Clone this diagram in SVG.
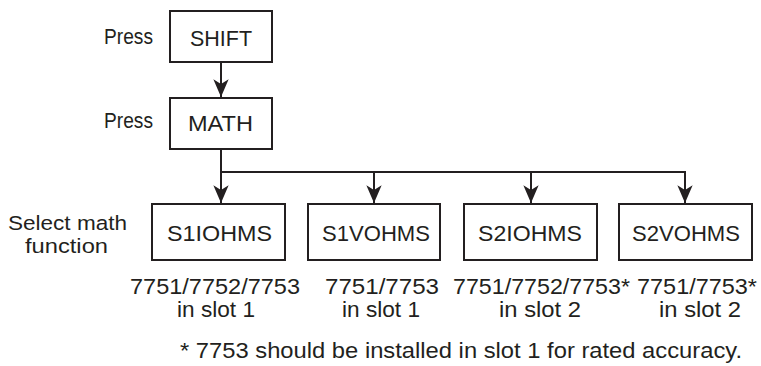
<svg xmlns="http://www.w3.org/2000/svg" width="761" height="366" viewBox="0 0 761 366">
<style>
text{font-family:"Liberation Sans",Arial,"DejaVu Sans",sans-serif;font-size:22.5px;fill:#231f20}
.sm{font-size:20.5px}
.box{fill:#fff;stroke:#231f20;stroke-width:2}
.c{fill:none;stroke:#231f20;stroke-width:2}
</style>
<defs>
<marker id="ah" markerUnits="userSpaceOnUse" markerWidth="20" markerHeight="20" refX="0" refY="0" viewBox="-16 -8 17 16" orient="auto">
<path d="M0,0 L-15,-6.5 L-11,0 L-15,6.5 Z" fill="#231f20"/>
</marker>
</defs>
<rect width="761" height="366" fill="#fff"/>
<g id="labels">
<text x="104" y="44" textLength="49" lengthAdjust="spacingAndGlyphs">Press</text>
<text x="104" y="128" textLength="49" lengthAdjust="spacingAndGlyphs">Press</text>
<text class="sm" x="8" y="230" textLength="119" lengthAdjust="spacingAndGlyphs">Select math</text>
<text class="sm" x="25" y="253" textLength="83" lengthAdjust="spacingAndGlyphs">function</text>
</g>
<g id="connectors">
<line class="c" x1="221" y1="62" x2="221" y2="97" marker-end="url(#ah)"/>
<polyline class="c" points="221,149 221,172 685,172"/>
<line class="c" x1="221" y1="172" x2="221" y2="203" marker-end="url(#ah)"/>
<line class="c" x1="374" y1="172" x2="374" y2="203" marker-end="url(#ah)"/>
<line class="c" x1="531" y1="172" x2="531" y2="203" marker-end="url(#ah)"/>
<line class="c" x1="685" y1="171" x2="685" y2="203" marker-end="url(#ah)"/>
</g>
<g id="shift">
<rect class="box" x="170" y="11" width="102" height="51"/>
<text x="190" y="46" textLength="62" lengthAdjust="spacingAndGlyphs">SHIFT</text>
</g>
<g id="math">
<rect class="box" x="170" y="98" width="102" height="51"/>
<text x="188" y="131" textLength="65" lengthAdjust="spacingAndGlyphs">MATH</text>
</g>
<g id="s1iohms">
<rect class="box" x="152" y="204" width="133" height="56"/>
<text x="167" y="241" textLength="105" lengthAdjust="spacingAndGlyphs">S1IOHMS</text>
<text x="130" y="294" textLength="170" lengthAdjust="spacingAndGlyphs">7751/7752/7753</text>
<text x="177" y="317" textLength="78" lengthAdjust="spacingAndGlyphs">in slot 1</text>
</g>
<g id="s1vohms">
<rect class="box" x="308" y="204" width="132" height="56"/>
<text x="322" y="241" textLength="108" lengthAdjust="spacingAndGlyphs">S1VOHMS</text>
<text x="325" y="294" textLength="114" lengthAdjust="spacingAndGlyphs">7751/7753</text>
<text x="342" y="317" textLength="78" lengthAdjust="spacingAndGlyphs">in slot 1</text>
</g>
<g id="s2iohms">
<rect class="box" x="464" y="204" width="133" height="56"/>
<text x="478" y="241" textLength="104" lengthAdjust="spacingAndGlyphs">S2IOHMS</text>
<text x="453" y="294" textLength="177" lengthAdjust="spacingAndGlyphs">7751/7752/7753*</text>
<text x="499" y="317" textLength="82" lengthAdjust="spacingAndGlyphs">in slot 2</text>
</g>
<g id="s2vohms">
<rect class="box" x="619" y="204" width="133" height="56"/>
<text x="632" y="241" textLength="108" lengthAdjust="spacingAndGlyphs">S2VOHMS</text>
<text x="637" y="294" textLength="120" lengthAdjust="spacingAndGlyphs">7751/7753*</text>
<text x="659" y="317" textLength="82" lengthAdjust="spacingAndGlyphs">in slot 2</text>
</g>
<g id="footnote">
<text x="180" y="358" textLength="562" lengthAdjust="spacingAndGlyphs">* 7753 should be installed in slot 1 for rated accuracy.</text>
</g>
</svg>
